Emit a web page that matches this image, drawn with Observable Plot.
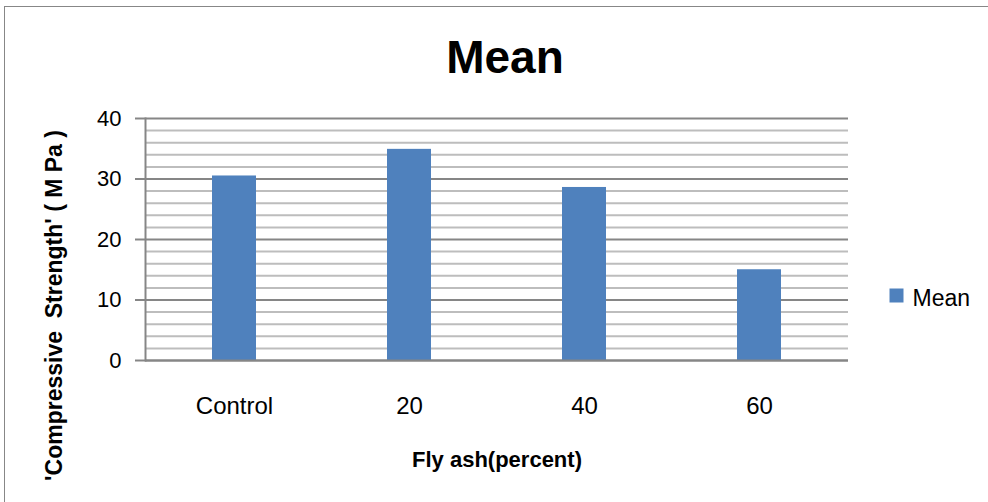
<!DOCTYPE html>
<html>
<head>
<meta charset="utf-8">
<script src="https://cdn.jsdelivr.net/npm/d3@7"></script>
<script src="https://cdn.jsdelivr.net/npm/@observablehq/plot@0.6"></script>
<style>
  html, body { margin: 0; padding: 0; background: #fff; overflow: hidden; }
  #wrap { position: relative; width: 988px; height: 502px; overflow: hidden; }
  #frame { position: absolute; left: 4px; top: 6px; width: 1200px; height: 800px;
           border-left: 1.5px solid #878787; border-top: 1.5px solid #878787; pointer-events: none; }
  #wrap svg { display: block; }
</style>
</head>
<body>
<div id="wrap"><div id="frame"></div></div>
<script>
const categories = ["Control", "20", "40", "60"];
const values = [30.5, 34.9, 28.6, 15.0];
const seriesName = "Mean";
const chartTitle = "Mean";
const yTitle = "'Compressive  Strength' ( M Pa )";
const xTitle = "Fly ash(percent)";
const yMajorTicks = [0, 10, 20, 30, 40];
const yMinorTicks = [2, 4, 6, 8, 12, 14, 16, 18, 22, 24, 26, 28, 32, 34, 36, 38];

const data = categories.map((c, i) => ({category: c, value: values[i]}));
const font = "'Liberation Sans', Arial, Helvetica, sans-serif";
const barColor = "#4F81BD";

const chart = Plot.plot({
  width: 988,
  height: 502,
  marginLeft: 145,
  marginRight: 140,
  marginTop: 118,
  marginBottom: 142,
  style: {fontFamily: font, fontSize: "22px", color: "black", background: "transparent"},
  x: {domain: categories, paddingInner: 0.75, paddingOuter: 0.375, label: null},
  y: {domain: [0, 40], label: null},
  marks: [
    Plot.ruleY(yMinorTicks, {stroke: "#bdbdbd", strokeWidth: 2}),
    Plot.ruleY(yMajorTicks, {stroke: "#868686", strokeWidth: 2}),
    Plot.barY(data, {x: "category", y: "value", fill: barColor}),
    Plot.ruleY([0], {stroke: "#868686", strokeWidth: 2}),
    Plot.frame({anchor: "left", stroke: "#868686", strokeWidth: 2}),
    Plot.axisY({ticks: yMajorTicks, text: null, tickSize: 10, stroke: "#868686", strokeWidth: 2, label: null}),
    Plot.axisY({ticks: yMajorTicks, tickSize: 0, tickPadding: 24, fill: "black", fontSize: 22, label: null}),
    Plot.axisX({tickSize: 0, tickPadding: 36, fill: "black", fontSize: 24, label: null}),
    Plot.text([yTitle], {frameAnchor: "left", rotate: -90, textAnchor: "middle", lineAnchor: "middle",
      dx: -91, dy: 66, fontSize: 23, fontWeight: "bold", fill: "black"}),
    Plot.text([xTitle], {frameAnchor: "bottom", textAnchor: "middle", lineAnchor: "middle",
      dy: 99, fontSize: 22, fontWeight: "bold", fill: "black"}),
    Plot.text([chartTitle], {frameAnchor: "top", textAnchor: "middle", lineAnchor: "middle",
      dx: 8, dy: -60, fontSize: 46, fontWeight: "bold", fill: "black"}),
    Plot.dot([seriesName], {frameAnchor: "right", dx: 48, dy: 56, symbol: "square", r: 7.9, fill: barColor, stroke: null}),
    Plot.text([seriesName], {frameAnchor: "right", textAnchor: "start", lineAnchor: "middle",
      dx: 64, dy: 59, fontSize: 23, fill: "black"})
  ]
});
document.getElementById("wrap").prepend(chart);
</script>
</body>
</html>
